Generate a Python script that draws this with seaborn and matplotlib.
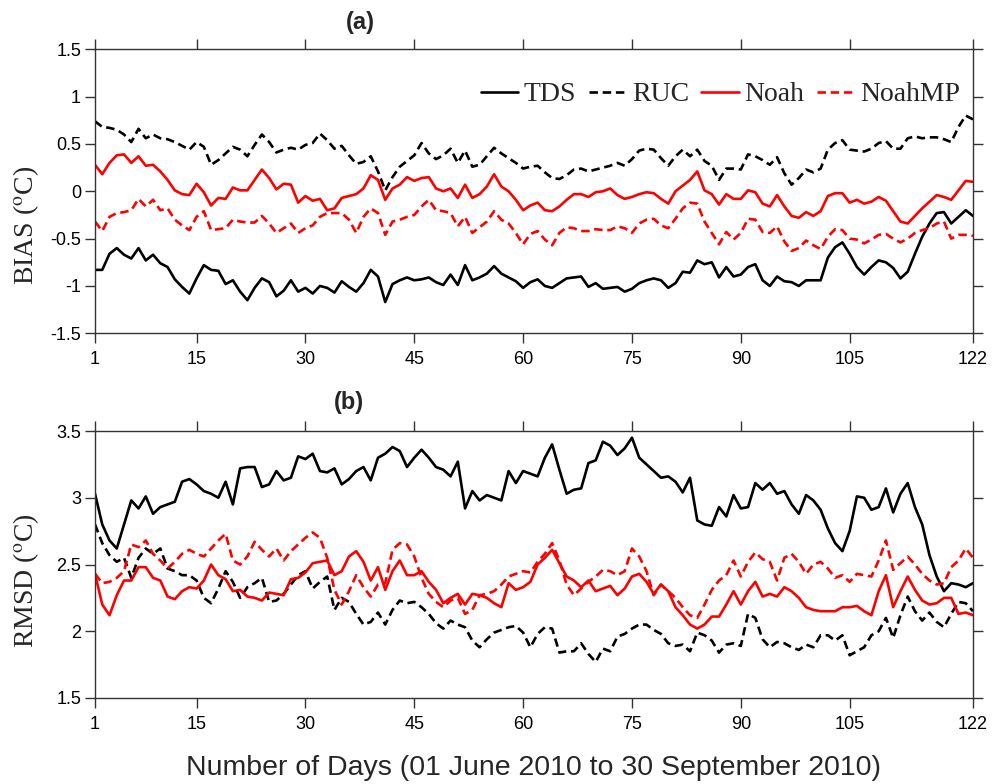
import matplotlib
matplotlib.use("Agg")
import matplotlib.pyplot as plt
import numpy as np
import pandas as pd
import seaborn as sns

days = list(range(1, 123))
models = ["TDS", "RUC", "Noah", "NoahMP"]
xticks = [1, 15, 30, 45, 60, 75, 90, 105, 122]
bias_ticks = [-1.5, -1, -0.5, 0, 0.5, 1, 1.5]
bias_ticklabels = ["-1.5", "-1", "-0.5", "0", "0.5", "1", "1.5"]
rmsd_ticks = [1.5, 2, 2.5, 3, 3.5]
rmsd_ticklabels = ["1.5", "2", "2.5", "3", "3.5"]

# ---- Panel (a) BIAS ----
bias_tds = [-0.83, -0.83, -0.66, -0.60, -0.67, -0.71, -0.60, -0.73, -0.67, -0.76, -0.80, -0.93, -1.01, -1.08, -0.92, -0.78, -0.83, -0.84, -0.98, -0.94, -1.06, -1.15, -1.02, -0.92, -0.96, -1.11, -1.05, -0.94, -1.06, -1.02, -1.08, -1.00,
            -1.02, -1.07, -0.95, -1.01, -1.06, -0.97, -0.83, -0.90, -1.17, -0.98, -0.94, -0.91, -0.94, -0.93, -0.91, -0.96, -0.99, -0.88, -0.99, -0.78, -0.94, -0.91, -0.87, -0.79, -0.87, -0.91, -0.95, -1.02, -0.96, -0.93, -1.00,
            -1.02, -0.97, -0.92, -0.91, -0.90, -1.01, -0.97, -1.03, -1.02, -1.01, -1.06, -1.03, -0.97, -0.94, -0.92, -0.94, -1.02, -0.97, -0.85, -0.86, -0.73, -0.77, -0.75, -0.91, -0.80, -0.90, -0.88, -0.80, -0.77, -0.94,
            -1.00, -0.90, -0.95, -0.96, -1.00, -0.94, -0.94, -0.94, -0.70, -0.59, -0.54, -0.66, -0.80, -0.88, -0.80, -0.73, -0.75, -0.81, -0.92, -0.85, -0.66, -0.48, -0.34, -0.23, -0.22, -0.34, -0.27, -0.20, -0.26]
bias_ruc = [0.74, 0.68, 0.67, 0.65, 0.60, 0.52, 0.66, 0.56, 0.60, 0.56, 0.55, 0.52, 0.48, 0.44, 0.52, 0.47, 0.28, 0.33, 0.40, 0.47, 0.44, 0.37, 0.49, 0.60, 0.52, 0.41, 0.44, 0.46, 0.44, 0.49, 0.51, 0.61,
            0.54, 0.45, 0.48, 0.38, 0.29, 0.31, 0.37, 0.21, 0.01, 0.15, 0.26, 0.32, 0.38, 0.51, 0.40, 0.34, 0.38, 0.45, 0.30, 0.43, 0.26, 0.28, 0.37, 0.46, 0.40, 0.35, 0.30, 0.24, 0.26, 0.27, 0.20,
            0.14, 0.13, 0.17, 0.23, 0.24, 0.21, 0.23, 0.25, 0.27, 0.30, 0.27, 0.34, 0.43, 0.45, 0.44, 0.35, 0.27, 0.37, 0.44, 0.37, 0.44, 0.32, 0.27, 0.12, 0.24, 0.24, 0.23, 0.39, 0.37, 0.33,
            0.28, 0.36, 0.19, 0.07, 0.14, 0.23, 0.20, 0.24, 0.44, 0.51, 0.54, 0.44, 0.43, 0.42, 0.45, 0.51, 0.53, 0.45, 0.45, 0.56, 0.58, 0.56, 0.57, 0.57, 0.55, 0.52, 0.68, 0.80, 0.76]
bias_noah = [0.28, 0.18, 0.30, 0.38, 0.39, 0.30, 0.37, 0.27, 0.28, 0.21, 0.12, 0.01, -0.03, -0.04, 0.08, -0.01, -0.15, -0.07, -0.08, 0.04, 0.01, 0.01, 0.12, 0.23, 0.14, 0.02, 0.08, 0.07, -0.12, -0.05, -0.10, -0.08,
             -0.20, -0.18, -0.07, -0.05, -0.03, 0.03, 0.17, 0.12, -0.09, 0.03, 0.07, 0.15, 0.11, 0.14, 0.15, 0.03, 0.00, 0.03, -0.07, 0.07, -0.07, -0.03, 0.05, 0.18, 0.05, 0.00, -0.09, -0.20, -0.15, -0.12, -0.20,
             -0.21, -0.16, -0.09, -0.03, -0.03, -0.06, -0.01, 0.00, 0.03, -0.04, -0.08, -0.06, -0.03, -0.01, -0.02, -0.08, -0.13, 0.00, 0.06, 0.12, 0.21, 0.01, -0.03, -0.14, -0.03, -0.08, -0.08, 0.01, -0.01, -0.13,
             -0.16, -0.04, -0.16, -0.26, -0.28, -0.22, -0.26, -0.21, -0.05, -0.02, -0.02, -0.12, -0.09, -0.13, -0.11, -0.06, -0.10, -0.21, -0.32, -0.34, -0.26, -0.18, -0.11, -0.04, -0.06, -0.09, 0.01, 0.11, 0.10]
bias_noahmp = [-0.32, -0.42, -0.27, -0.23, -0.22, -0.20, -0.08, -0.16, -0.09, -0.20, -0.18, -0.30, -0.36, -0.41, -0.27, -0.21, -0.41, -0.40, -0.39, -0.30, -0.32, -0.33, -0.33, -0.26, -0.34, -0.44, -0.39, -0.34, -0.44, -0.39, -0.36, -0.27,
               -0.23, -0.23, -0.23, -0.30, -0.44, -0.27, -0.18, -0.23, -0.46, -0.32, -0.30, -0.27, -0.25, -0.16, -0.09, -0.20, -0.21, -0.23, -0.37, -0.27, -0.44, -0.38, -0.32, -0.21, -0.30, -0.34, -0.44, -0.56, -0.45, -0.42, -0.51,
               -0.57, -0.44, -0.38, -0.39, -0.42, -0.42, -0.40, -0.41, -0.41, -0.37, -0.39, -0.44, -0.34, -0.30, -0.29, -0.36, -0.39, -0.29, -0.18, -0.12, -0.13, -0.32, -0.44, -0.56, -0.43, -0.51, -0.44, -0.29, -0.30, -0.43,
               -0.44, -0.37, -0.53, -0.63, -0.60, -0.52, -0.57, -0.61, -0.48, -0.40, -0.41, -0.50, -0.51, -0.55, -0.51, -0.46, -0.45, -0.50, -0.54, -0.50, -0.44, -0.41, -0.39, -0.34, -0.32, -0.50, -0.46, -0.46, -0.47]

# ---- Panel (b) RMSD ----
rmsd_tds = [3.03, 2.80, 2.68, 2.62, 2.80, 2.98, 2.92, 3.01, 2.88, 2.93, 2.95, 2.97, 3.12, 3.14, 3.10, 3.05, 3.03, 3.00, 3.12, 2.95, 3.22, 3.23, 3.23, 3.08, 3.10, 3.20, 3.13, 3.15, 3.31, 3.29, 3.33, 3.20,
            3.19, 3.22, 3.10, 3.14, 3.20, 3.23, 3.13, 3.30, 3.33, 3.38, 3.35, 3.23, 3.30, 3.36, 3.30, 3.23, 3.21, 3.16, 3.27, 2.92, 3.05, 2.98, 3.02, 3.00, 2.98, 3.20, 3.11, 3.20, 3.18, 3.16, 3.30,
            3.40, 3.21, 3.03, 3.06, 3.07, 3.26, 3.28, 3.42, 3.39, 3.32, 3.37, 3.45, 3.30, 3.25, 3.20, 3.15, 3.16, 3.12, 3.04, 3.15, 2.83, 2.80, 2.79, 2.93, 2.86, 3.02, 2.92, 2.93, 3.11, 3.06,
            3.11, 3.03, 3.05, 2.95, 2.88, 3.02, 2.98, 2.91, 2.77, 2.66, 2.60, 2.75, 3.01, 3.00, 2.91, 2.93, 3.07, 2.89, 3.03, 3.11, 2.93, 2.80, 2.57, 2.41, 2.30, 2.36, 2.35, 2.33, 2.36]
rmsd_ruc = [2.80, 2.66, 2.57, 2.52, 2.55, 2.40, 2.55, 2.62, 2.58, 2.62, 2.47, 2.45, 2.42, 2.42, 2.38, 2.25, 2.21, 2.32, 2.45, 2.37, 2.25, 2.33, 2.36, 2.40, 2.22, 2.23, 2.28, 2.35, 2.42, 2.45, 2.32, 2.37,
            2.41, 2.16, 2.25, 2.22, 2.13, 2.05, 2.07, 2.14, 2.05, 2.16, 2.23, 2.21, 2.22, 2.18, 2.13, 2.06, 2.02, 2.08, 2.05, 2.03, 1.93, 1.88, 1.94, 1.99, 2.01, 2.03, 2.04, 1.99, 1.88, 1.98, 2.03,
            2.02, 1.84, 1.85, 1.85, 1.91, 1.83, 1.77, 1.87, 1.85, 1.96, 1.98, 2.02, 2.05, 2.05, 2.01, 1.98, 1.91, 1.89, 1.90, 1.85, 1.99, 1.97, 1.93, 1.84, 1.90, 1.91, 1.89, 2.13, 2.10, 1.94,
            1.88, 1.92, 1.91, 1.88, 1.86, 1.90, 1.88, 1.97, 1.97, 1.93, 1.97, 1.82, 1.85, 1.88, 1.97, 2.00, 2.10, 1.95, 2.12, 2.26, 2.15, 2.08, 2.14, 2.07, 2.03, 2.13, 2.22, 2.21, 2.15]
rmsd_noah = [2.43, 2.20, 2.12, 2.27, 2.38, 2.38, 2.48, 2.48, 2.40, 2.38, 2.26, 2.24, 2.30, 2.33, 2.32, 2.38, 2.50, 2.42, 2.39, 2.30, 2.31, 2.26, 2.25, 2.23, 2.29, 2.28, 2.27, 2.39, 2.40, 2.44, 2.51, 2.52,
             2.53, 2.42, 2.45, 2.56, 2.60, 2.52, 2.38, 2.48, 2.31, 2.45, 2.53, 2.42, 2.42, 2.45, 2.37, 2.31, 2.21, 2.25, 2.28, 2.20, 2.28, 2.27, 2.25, 2.21, 2.18, 2.36, 2.31, 2.33, 2.37, 2.50, 2.55,
             2.61, 2.51, 2.41, 2.38, 2.33, 2.38, 2.30, 2.32, 2.34, 2.27, 2.32, 2.41, 2.43, 2.37, 2.28, 2.35, 2.30, 2.18, 2.12, 2.05, 2.02, 2.05, 2.11, 2.11, 2.20, 2.30, 2.20, 2.30, 2.37, 2.26,
             2.28, 2.26, 2.33, 2.30, 2.25, 2.18, 2.16, 2.15, 2.15, 2.15, 2.18, 2.18, 2.19, 2.15, 2.12, 2.30, 2.42, 2.18, 2.30, 2.41, 2.31, 2.23, 2.20, 2.21, 2.25, 2.25, 2.13, 2.14, 2.12]
rmsd_noahmp = [2.43, 2.36, 2.37, 2.40, 2.45, 2.65, 2.63, 2.68, 2.58, 2.53, 2.47, 2.52, 2.58, 2.61, 2.58, 2.56, 2.62, 2.68, 2.73, 2.53, 2.50, 2.56, 2.67, 2.61, 2.56, 2.62, 2.53, 2.60, 2.65, 2.70, 2.74, 2.70,
               2.55, 2.31, 2.20, 2.30, 2.42, 2.33, 2.26, 2.35, 2.36, 2.61, 2.66, 2.65, 2.56, 2.40, 2.28, 2.22, 2.18, 2.23, 2.25, 2.13, 2.16, 2.27, 2.28, 2.30, 2.35, 2.41, 2.43, 2.45, 2.44, 2.52, 2.58,
               2.66, 2.53, 2.35, 2.27, 2.32, 2.37, 2.41, 2.46, 2.45, 2.42, 2.45, 2.62, 2.56, 2.45, 2.27, 2.35, 2.30, 2.25, 2.18, 2.12, 2.10, 2.20, 2.31, 2.38, 2.42, 2.53, 2.41, 2.52, 2.59, 2.54,
               2.52, 2.38, 2.55, 2.58, 2.52, 2.43, 2.50, 2.52, 2.47, 2.40, 2.42, 2.37, 2.43, 2.42, 2.41, 2.53, 2.68, 2.46, 2.51, 2.56, 2.50, 2.43, 2.38, 2.35, 2.36, 2.48, 2.53, 2.62, 2.55]

sns.set_style("ticks")
plt.rcParams['font.family'] = ['Liberation Sans', 'DejaVu Sans']
plt.rcParams['mathtext.fontset'] = 'stix'

palette = {"TDS": "black", "RUC": "black", "Noah": "#ff0000", "NoahMP": "#ff0000"}
dashes = {"TDS": "", "RUC": (3.2, 1.8), "Noah": "", "NoahMP": (3.2, 1.8)}


def long_df(vals):
    frames = []
    for m, v in zip(models, vals):
        frames.append(pd.DataFrame({"day": days, "value": v, "model": m}))
    return pd.concat(frames, ignore_index=True)


df_a = long_df([bias_tds, bias_ruc, bias_noah, bias_noahmp])
df_b = long_df([rmsd_tds, rmsd_ruc, rmsd_noah, rmsd_noahmp])

W, H = 994, 784
fig = plt.figure(figsize=(W / 100, H / 100), dpi=100)
ax1 = fig.add_axes([95 / W, 1 - 333.3 / H, 878 / W, 284 / H])
ax2 = fig.add_axes([95 / W, 1 - 698 / H, 878 / W, 267 / H])

for ax, df in ((ax1, df_a), (ax2, df_b)):
    sns.lineplot(data=df, x="day", y="value", hue="model", style="model",
                 hue_order=models, style_order=models, palette=palette,
                 dashes=dashes, linewidth=1.9, legend=False, ax=ax,
                 estimator=None, sort=False)
    ax.set_xlim(1, 122)
    ax.set_xticks(xticks)
    ax.set_xticklabels([str(t) for t in xticks])
    ax.tick_params(axis="both", which="both", direction="out", length=7,
                   width=1, color="#333333", labelsize=13, top=True, right=True,
                   labelcolor="black")
    ax.tick_params(axis="x", pad=6)
    ax.tick_params(axis="y", pad=3)
    for s in ax.spines.values():
        s.set_color("#333333")
        s.set_linewidth(1)
        s.set_visible(True)
    ax.set_xlabel("")

ax1.set_ylim(-1.5, 1.5)
ax1.set_yticks(bias_ticks)
ax1.set_yticklabels(bias_ticklabels)
ax2.set_ylim(1.5, 3.5)
ax2.set_yticks(rmsd_ticks)
ax2.set_yticklabels(rmsd_ticklabels)

ax1.set_ylabel("BIAS ($^{\\rm o}$C)", fontfamily="Liberation Serif", fontsize=20)
ax2.set_ylabel("RMSD ($^{\\rm o}$C)", fontfamily="Liberation Serif", fontsize=20)
ax1.yaxis.set_label_coords(-0.062, 0.38)
ax2.yaxis.set_label_coords(-0.062, 0.44)

handles = ax1.lines[:4]
ax1.legend(handles, models, ncol=4, loc="center right", bbox_to_anchor=(0.985, 0.84),
           frameon=False, prop={"family": "Liberation Serif", "size": 20},
           handlelength=1.35, handletextpad=0.2, columnspacing=0.45, borderpad=0,
           borderaxespad=0)

fig.text(360 / W, 1 - 22 / H, "(a)", ha="center", va="center", fontsize=17, fontweight="bold")
fig.text(349 / W, 1 - 402 / H, "(b)", ha="center", va="center", fontsize=17, fontweight="bold")
fig.text(534 / W, 1 - 768 / H, "Number of Days (01 June 2010 to 30 September 2010)",
         ha="center", va="center", fontsize=20.5)

fig.savefig("out.png", dpi=100)
